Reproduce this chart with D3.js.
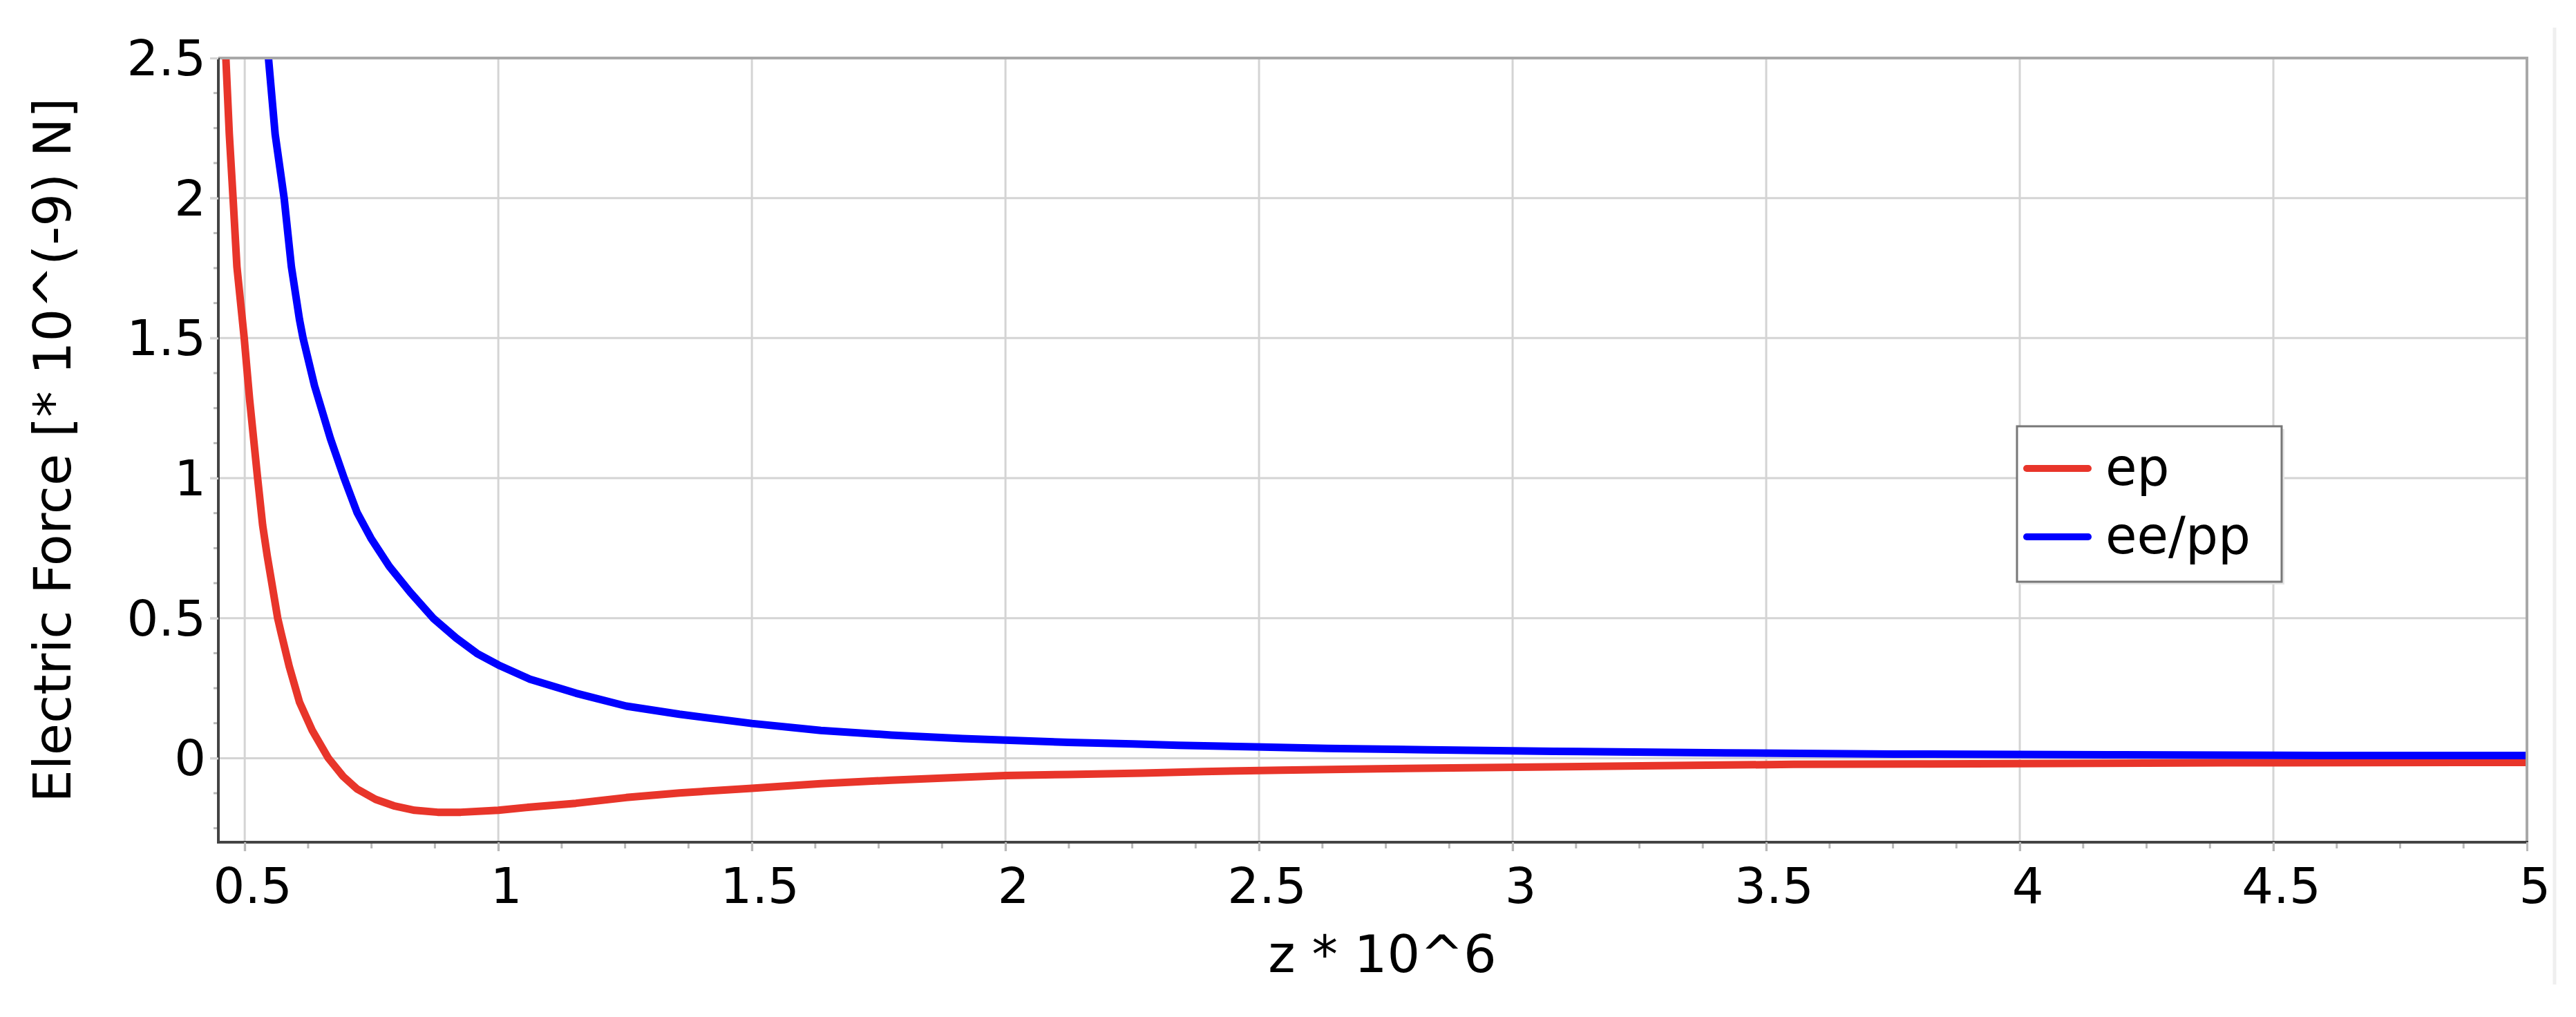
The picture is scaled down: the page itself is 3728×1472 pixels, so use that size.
<!DOCTYPE html>
<html>
<head>
<meta charset="utf-8">
<script src="https://cdn.jsdelivr.net/npm/d3@7"></script>
<style>
  html, body { margin: 0; padding: 0; background: #ffffff; }
  svg { display: block; font-family: "DejaVu Sans", Verdana, sans-serif; }
</style>
</head>
<body>
<svg id="chart" width="3728" height="1472"></svg>
<script>
// ---------- data ----------
const seriesNames = ["ep", "ee/pp"];
const seriesColors = ["#e8352a", "#0000ff"];

const epZ = [0.4628, 0.4696, 0.477, 0.4846, 0.499, 0.5095, 0.5254, 0.5354, 0.5445, 0.565, 0.5718, 0.5877,
  0.608, 0.633, 0.665, 0.694, 0.7216, 0.758, 0.794, 0.835, 0.8806, 0.926, 1.0, 1.062, 1.153, 1.2524,
  1.357, 1.5, 1.636, 1.775, 1.915, 2.0, 2.124, 2.271, 2.391, 2.544, 2.734, 2.976, 3.285, 3.554, 3.796,
  4.406, 4.911, 5.0];
const epF = [2.5, 2.228, 2.0, 1.755, 1.5, 1.283, 1.0, 0.831, 0.721, 0.5, 0.447, 0.328,
  0.2, 0.0996, 0.0, -0.065, -0.11, -0.147, -0.17, -0.186, -0.193, -0.193, -0.186, -0.1746, -0.161, -0.1405,
  -0.124, -0.1074, -0.091, -0.0785, -0.068, -0.062, -0.058, -0.0535, -0.0477, -0.0428, -0.038, -0.033, -0.027, -0.022, -0.0206,
  -0.0165, -0.015, -0.015];

const eeZ = [0.5468, 0.560, 0.5777, 0.592, 0.608, 0.615, 0.6376, 0.669, 0.696, 0.7216, 0.749, 0.785, 0.826,
  0.8715, 0.917, 0.958, 1.0, 1.062, 1.153, 1.2524, 1.357, 1.5, 1.636, 1.775, 1.915, 2.0, 2.124, 2.251,
  2.341, 2.475, 2.635, 2.832, 3.082, 3.42, 3.75, 4.2, 4.6, 5.0];
const eeF = [2.5, 2.228, 2.0, 1.755, 1.566, 1.5, 1.33, 1.141, 1.0, 0.877, 0.785, 0.685, 0.593,
  0.5, 0.429, 0.374, 0.333, 0.2824, 0.232, 0.186, 0.157, 0.124, 0.0992, 0.0826, 0.0702, 0.0645, 0.0562, 0.051,
  0.046, 0.041, 0.035, 0.030, 0.0247, 0.019, 0.0148, 0.012, 0.0099, 0.0095];

const xTickValues = [0.5, 1, 1.5, 2, 2.5, 3, 3.5, 4, 4.5, 5];
const xTickLabels = ["0.5", "1", "1.5", "2", "2.5", "3", "3.5", "4", "4.5", "5"];
const yTickValues = [0, 0.5, 1, 1.5, 2, 2.5];
const yTickLabels = ["0", "0.5", "1", "1.5", "2", "2.5"];
const xTitle = "z * 10^6";
const yTitle = "Electric Force [* 10^(-9) N]";

// ---------- layout ----------
const svg = d3.select("#chart");
const L = 316, R = 3657, T = 84, B = 1219;
const x = d3.scaleLinear().domain([0.448, 5]).range([L, R]);
const y = d3.scaleLinear().domain([-0.3, 2.5]).range([B, T]);

const gridColor = "#d4d4d4";
const minorColor = "#b8b8b8";

// faint vertical strip at far right
svg.append("line").attr("x1", 3697).attr("x2", 3697).attr("y1", 40).attr("y2", 1425)
  .attr("stroke", "#efefef").attr("stroke-width", 5);

// minor ticks
const xMinor = d3.range(0.5, 5.0001, 0.125).filter(v => Math.abs(v * 2 - Math.round(v * 2)) > 1e-6);
const yMinor = d3.range(-0.25, 2.5001, 0.125).filter(v => Math.abs(v * 2 - Math.round(v * 2)) > 1e-6);

// grid
const grid = svg.append("g");
grid.selectAll("line.vx").data(xTickValues.filter(v => v < 5)).join("line")
  .attr("x1", d => x(d)).attr("x2", d => x(d)).attr("y1", T).attr("y2", B + 13)
  .attr("stroke", gridColor).attr("stroke-width", 3);
grid.selectAll("line.hy").data(yTickValues.filter(v => v < 2.5)).join("line")
  .attr("class", "hy")
  .attr("x1", L - 12).attr("x2", R).attr("y1", d => y(d)).attr("y2", d => y(d))
  .attr("stroke", gridColor).attr("stroke-width", 3);

// minor tick marks
grid.selectAll("line.mx").data(xMinor).join("line").attr("class", "mx")
  .attr("x1", d => x(d)).attr("x2", d => x(d)).attr("y1", B).attr("y2", B + 9)
  .attr("stroke", minorColor).attr("stroke-width", 3);
grid.selectAll("line.my").data(yMinor).join("line").attr("class", "my")
  .attr("x1", L - 7).attr("x2", L).attr("y1", d => y(d)).attr("y2", d => y(d))
  .attr("stroke", minorColor).attr("stroke-width", 3);

// clip
svg.append("defs").append("clipPath").attr("id", "plotclip")
  .append("rect").attr("x", L).attr("y", T).attr("width", R - L).attr("height", B - T);

const line = d3.line().x(d => x(d[0])).y(d => y(d[1]));
const epData = epZ.map((z, i) => [z, epF[i]]);
const eeData = eeZ.map((z, i) => [z, eeF[i]]);

const curves = svg.append("g").attr("clip-path", "url(#plotclip)");
[epData, eeData].forEach((data, i) => {
  curves.append("path").datum(data).attr("d", line)
    .attr("fill", "none").attr("stroke", seriesColors[i])
    .attr("stroke-width", 11).attr("stroke-linejoin", "round");
});

// frame: top and right
svg.append("line").attr("x1", L).attr("x2", R + 2).attr("y1", T).attr("y2", T)
  .attr("stroke", "#a8a8a8").attr("stroke-width", 4);
svg.append("line").attr("x1", R).attr("x2", R).attr("y1", T).attr("y2", B)
  .attr("stroke", "#a8a8a8").attr("stroke-width", 4);

// axes
const xAxis = d3.axisBottom(x).tickValues(xTickValues)
  .tickFormat((d, i) => xTickLabels[i]).tickSize(13).tickPadding(24);
const gx = svg.append("g").attr("transform", `translate(0,${B})`).call(xAxis);
gx.select(".domain").attr("stroke", "#444").attr("stroke-width", 4).attr("d", `M${L - 2},0H${R + 2}`);
gx.selectAll(".tick line").attr("stroke", minorColor).attr("stroke-width", 3);
gx.selectAll(".tick text").attr("x", 11).attr("fill", "#000")
  .style("font-size", "72px").style("font-family", "'DejaVu Sans', Verdana, sans-serif");

const yAxis = d3.axisLeft(y).tickValues(yTickValues)
  .tickFormat((d, i) => yTickLabels[i]).tickSize(12).tickPadding(6);
const gy = svg.append("g").attr("transform", `translate(${L},0)`).call(yAxis);
gy.select(".domain").attr("stroke", "#444").attr("stroke-width", 4).attr("d", `M0,${T}V${B + 2}`);
gy.selectAll(".tick line").attr("stroke", gridColor).attr("stroke-width", 3);
gy.selectAll(".tick text").attr("fill", "#000").attr("dy", "0.34em")
  .style("font-size", "72px").style("font-family", "'DejaVu Sans', Verdana, sans-serif");

// axis titles
svg.append("text").attr("x", (L + R) / 2 + 14).attr("y", 1407)
  .attr("text-anchor", "middle").attr("font-size", 75).attr("fill", "#000").text(xTitle);
svg.append("text").attr("transform", `translate(102,${(T + B) / 2}) rotate(-90)`)
  .attr("text-anchor", "middle").attr("font-size", 75).attr("fill", "#000").text(yTitle);

// legend
const lg = svg.append("g");
lg.append("rect").attr("x", 2923).attr("y", 621).attr("width", 383).attr("height", 225)
  .attr("fill", "#e6e6e6");
lg.append("rect").attr("x", 2919).attr("y", 617).attr("width", 383).attr("height", 225)
  .attr("fill", "#ffffff").attr("stroke", "#777").attr("stroke-width", 3);
const legendRows = [678, 777];
seriesNames.forEach((name, i) => {
  lg.append("line").attr("x1", 2933).attr("x2", 3022)
    .attr("y1", legendRows[i]).attr("y2", legendRows[i])
    .attr("stroke", seriesColors[i]).attr("stroke-width", 10).attr("stroke-linecap", "round");
  lg.append("text").attr("x", 3047).attr("y", legendRows[i] + 24)
    .attr("font-size", 74).attr("fill", "#000").text(name);
});
</script>
</body>
</html>
